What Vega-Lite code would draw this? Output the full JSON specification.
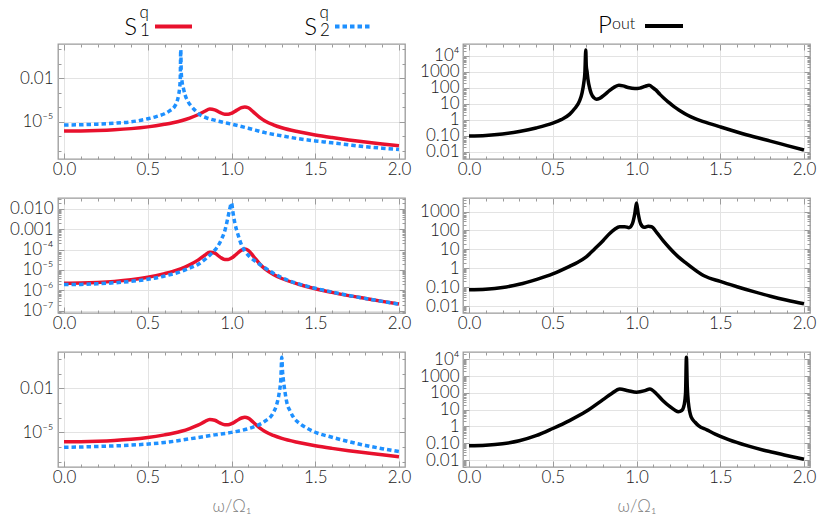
{
  "$schema": "https://vega.github.io/schema/vega-lite/v6.json",
  "background": "white",
  "padding": {"left": 8, "top": 3, "right": 5, "bottom": 5},
  "config": {
    "view": {"stroke": "#9b9b9b", "strokeWidth": 1.3},
    "font": "Lato",
    "axis": {"domain": false, "labelFont": "Lato", "labelFontSize": 17, "labelFontWeight": 300, "labelColor": "#1a1a1a", "tickColor": "#9b9b9b", "tickWidth": 1, "gridColor": "#e3e3e3", "gridWidth": 1, "labelOverlap": false, "labelFlush": false, "labelBound": false, "titleFont": "Lato", "titleFontSize": 17, "titleFontWeight": 300, "titleColor": "#808080"}
  },
  "datasets": {
    "s1": [{"x":0,"y":2.24e-6},{"x":0.1,"y":2.29e-6},{"x":0.2,"y":2.45e-6},{"x":0.3,"y":2.75e-6},{"x":0.4,"y":3.31e-6},{"x":0.5,"y":4.37e-6},{"x":0.6,"y":6.61e-6},{"x":0.65,"y":8.51e-6},{"x":0.7,"y":1.17e-5},{"x":0.75,"y":1.78e-5},{"x":0.8,"y":3.02e-5},{"x":0.84,"y":5.25e-5},{"x":0.87,"y":7.41e-5},{"x":0.9,"y":6.61e-5},{"x":0.93,"y":4.37e-5},{"x":0.96,"y":3.24e-5},{"x":0.98,"y":3.24e-5},{"x":1.0,"y":3.8e-5},{"x":1.03,"y":6.03e-5},{"x":1.06,"y":9.33e-5},{"x":1.08,"y":1.05e-4},{"x":1.1,"y":9.12e-5},{"x":1.13,"y":4.79e-5},{"x":1.17,"y":1.91e-5},{"x":1.2,"y":1.12e-5},{"x":1.25,"y":6.03e-6},{"x":1.3,"y":3.8e-6},{"x":1.4,"y":2.0e-6},{"x":1.5,"y":1.2e-6},{"x":1.6,"y":7.94e-7},{"x":1.7,"y":5.5e-7},{"x":1.8,"y":3.98e-7},{"x":1.9,"y":2.88e-7},{"x":2.0,"y":2.14e-7}],
    "s2a": [{"x":0,"y":5.89e-6},{"x":0.1,"y":6.17e-6},{"x":0.2,"y":6.76e-6},{"x":0.3,"y":7.76e-6},{"x":0.4,"y":9.77e-6},{"x":0.5,"y":1.58e-5},{"x":0.55,"y":2.24e-5},{"x":0.6,"y":3.55e-5},{"x":0.63,"y":5.62e-5},{"x":0.66,"y":1.12e-4},{"x":0.675,"y":2.51e-4},{"x":0.685,"y":7.94e-4},{"x":0.69,"y":2.0e-3},{"x":0.694,"y":1.0e-2},{"x":0.697,"y":0.955},{"x":0.7,"y":2.51e-2},{"x":0.705,"y":5.62e-3},{"x":0.712,"y":2.24e-3},{"x":0.723,"y":7.08e-4},{"x":0.74,"y":2.51e-4},{"x":0.762,"y":1.1e-4},{"x":0.79,"y":5.01e-5},{"x":0.812,"y":2.95e-5},{"x":0.85,"y":1.86e-5},{"x":0.892,"y":1.32e-5},{"x":0.95,"y":9.12e-6},{"x":1.0,"y":6.76e-6},{"x":1.1,"y":3.55e-6},{"x":1.2,"y":1.74e-6},{"x":1.3,"y":1.05e-6},{"x":1.4,"y":6.61e-7},{"x":1.5,"y":4.68e-7},{"x":1.6,"y":3.47e-7},{"x":1.7,"y":2.51e-7},{"x":1.8,"y":1.86e-7},{"x":1.9,"y":1.48e-7},{"x":2.0,"y":1.2e-7}],
    "s2b": [{"x":0,"y":1.91e-6},{"x":0.1,"y":1.95e-6},{"x":0.2,"y":2.09e-6},{"x":0.3,"y":2.34e-6},{"x":0.4,"y":2.75e-6},{"x":0.5,"y":3.47e-6},{"x":0.6,"y":5.01e-6},{"x":0.7,"y":8.51e-6},{"x":0.75,"y":1.23e-5},{"x":0.8,"y":1.86e-5},{"x":0.85,"y":3.72e-5},{"x":0.88,"y":6.31e-5},{"x":0.91,"y":1.17e-4},{"x":0.94,"y":3.16e-4},{"x":0.96,"y":8.32e-4},{"x":0.98,"y":4.17e-3},{"x":0.99,"y":1.0e-2},{"x":1.0,"y":1.9e-2},{"x":1.01,"y":5.62e-3},{"x":1.02,"y":2.0e-3},{"x":1.04,"y":5.01e-4},{"x":1.06,"y":1.66e-4},{"x":1.08,"y":8.32e-5},{"x":1.11,"y":4.37e-5},{"x":1.15,"y":2.4e-5},{"x":1.2,"y":1.26e-5},{"x":1.25,"y":6.92e-6},{"x":1.3,"y":4.17e-6},{"x":1.4,"y":2.09e-6},{"x":1.5,"y":1.26e-6},{"x":1.6,"y":8.32e-7},{"x":1.7,"y":5.62e-7},{"x":1.8,"y":3.98e-7},{"x":1.9,"y":2.88e-7},{"x":2.0,"y":2.09e-7}],
    "s2c": [{"x":0,"y":9.33e-7},{"x":0.2,"y":1.07e-6},{"x":0.4,"y":1.32e-6},{"x":0.6,"y":2.0e-6},{"x":0.8,"y":4.37e-6},{"x":0.9,"y":6.61e-6},{"x":1.0,"y":9.77e-6},{"x":1.1,"y":1.74e-5},{"x":1.15,"y":2.75e-5},{"x":1.2,"y":5.62e-5},{"x":1.25,"y":2.19e-4},{"x":1.27,"y":7.94e-4},{"x":1.285,"y":5.01e-3},{"x":1.295,"y":0.05},{"x":1.3,"y":1.29},{"x":1.305,"y":0.126},{"x":1.31,"y":0.0355},{"x":1.32,"y":5.01e-3},{"x":1.33,"y":1.12e-3},{"x":1.35,"y":2.82e-4},{"x":1.37,"y":1.05e-4},{"x":1.41,"y":3.72e-5},{"x":1.45,"y":1.91e-5},{"x":1.5,"y":1.0e-5},{"x":1.6,"y":4.57e-6},{"x":1.7,"y":2.29e-6},{"x":1.8,"y":1.26e-6},{"x":1.9,"y":7.59e-7},{"x":2.0,"y":4.79e-7}],
    "pa": [{"x":0,"y":0.1},{"x":0.1,"y":0.107},{"x":0.2,"y":0.132},{"x":0.3,"y":0.191},{"x":0.4,"y":0.316},{"x":0.5,"y":0.631},{"x":0.55,"y":1.05},{"x":0.6,"y":2.24},{"x":0.63,"y":5.01},{"x":0.66,"y":15.8},{"x":0.675,"y":50.1},{"x":0.685,"y":200},{"x":0.692,"y":1000},{"x":0.697,"y":23400},{"x":0.7,"y":2510},{"x":0.705,"y":1000},{"x":0.71,"y":355},{"x":0.72,"y":100},{"x":0.73,"y":44.7},{"x":0.745,"y":25.1},{"x":0.76,"y":20},{"x":0.78,"y":22.4},{"x":0.81,"y":38},{"x":0.84,"y":70.8},{"x":0.87,"y":117},{"x":0.895,"y":148},{"x":0.92,"y":135},{"x":0.95,"y":107},{"x":0.99,"y":91.2},{"x":1.02,"y":97.7},{"x":1.05,"y":126},{"x":1.075,"y":148},{"x":1.1,"y":100},{"x":1.115,"y":75.9},{"x":1.14,"y":39.8},{"x":1.164,"y":22.9},{"x":1.19,"y":13.2},{"x":1.224,"y":6.76},{"x":1.26,"y":3.8},{"x":1.303,"y":2.04},{"x":1.35,"y":1.2},{"x":1.4,"y":0.794},{"x":1.5,"y":0.372},{"x":1.6,"y":0.178},{"x":1.7,"y":0.0891},{"x":1.8,"y":0.0479},{"x":1.9,"y":0.0251},{"x":2.0,"y":0.0132}],
    "pb": [{"x":0,"y":0.0724},{"x":0.1,"y":0.0776},{"x":0.2,"y":0.0955},{"x":0.3,"y":0.141},{"x":0.4,"y":0.251},{"x":0.5,"y":0.501},{"x":0.6,"y":1.26},{"x":0.65,"y":2.09},{"x":0.7,"y":3.98},{"x":0.75,"y":10.5},{"x":0.8,"y":28.8},{"x":0.84,"y":69.2},{"x":0.87,"y":117},{"x":0.9,"y":158},{"x":0.93,"y":158},{"x":0.955,"y":141},{"x":0.975,"y":224},{"x":0.99,"y":794},{"x":1.0,"y":2820},{"x":1.01,"y":794},{"x":1.025,"y":224},{"x":1.045,"y":148},{"x":1.07,"y":166},{"x":1.09,"y":158},{"x":1.12,"y":79.4},{"x":1.16,"y":28.2},{"x":1.2,"y":11.2},{"x":1.25,"y":3.98},{"x":1.3,"y":1.78},{"x":1.4,"y":0.417},{"x":1.5,"y":0.2},{"x":1.6,"y":0.105},{"x":1.7,"y":0.0575},{"x":1.8,"y":0.0331},{"x":1.9,"y":0.0204},{"x":2.0,"y":0.0132}],
    "pc": [{"x":0,"y":0.0708},{"x":0.1,"y":0.0759},{"x":0.2,"y":0.0933},{"x":0.3,"y":0.141},{"x":0.4,"y":0.282},{"x":0.5,"y":0.759},{"x":0.6,"y":2.24},{"x":0.7,"y":7.94},{"x":0.8,"y":39.8},{"x":0.85,"y":89.1},{"x":0.9,"y":170},{"x":0.95,"y":135},{"x":1.0,"y":110},{"x":1.05,"y":135},{"x":1.08,"y":170},{"x":1.12,"y":85.1},{"x":1.16,"y":33.1},{"x":1.2,"y":15.1},{"x":1.23,"y":9.33},{"x":1.25,"y":7.59},{"x":1.27,"y":8.91},{"x":1.285,"y":20},{"x":1.293,"y":100},{"x":1.298,"y":13200},{"x":1.303,"y":251},{"x":1.31,"y":25.1},{"x":1.327,"y":3.55},{"x":1.35,"y":1.78},{"x":1.37,"y":1.12},{"x":1.42,"y":0.631},{"x":1.47,"y":0.355},{"x":1.55,"y":0.166},{"x":1.66,"y":0.0724},{"x":1.76,"y":0.0389},{"x":1.86,"y":0.0229},{"x":1.93,"y":0.0158},{"x":2.0,"y":0.0112}]
  },
  "bounds": "flush",
  "columns": 2,
  "spacing": {"row": 39, "column": 58},
  "concat": [
    {
      "width": 347, "height": 2, "view": {"stroke": null},
      "data": {"values": [{"k": "S1", "main": "S", "sub": "1", "sup": "q"}, {"k": "S2", "main": "S", "sub": "2", "sup": "q"}]},
      "encoding": {"x": {"field": "k", "type": "nominal", "scale": {"type": "point", "padding": 0.464, "align": 0.557}, "axis": null}},
      "layer": [
        {"mark": {"type": "text", "align": "right", "baseline": "alphabetic", "dx": -14, "dy": 30.5, "fontSize": 24, "fontWeight": 300, "font": "Lato", "color": "#000"}, "encoding": {"text": {"field": "main"}}},
        {"mark": {"type": "text", "align": "left", "baseline": "alphabetic", "dx": -11, "dy": 31.5, "fontSize": 17, "fontWeight": 300, "font": "Lato", "color": "#000"}, "encoding": {"text": {"field": "sub"}}},
        {"mark": {"type": "text", "align": "left", "baseline": "alphabetic", "dx": -11.5, "dy": 13.5, "fontSize": 17, "fontWeight": 300, "font": "Lato", "color": "#000"}, "encoding": {"text": {"field": "sup"}}},
        {"mark": {"type": "rule", "strokeWidth": 4, "xOffset": 4, "x2Offset": 41, "yOffset": 22.5},
         "encoding": {"x2": {"field": "k"},
           "color": {"field": "k", "type": "nominal", "scale": {"domain": ["S1", "S2"], "range": ["#e8112d", "#1e90ff"]}, "legend": null},
           "strokeDash": {"field": "k", "type": "nominal", "scale": {"domain": ["S1", "S2"], "range": [[1, 0], [4.5, 3]]}, "legend": null}}}
      ]
    },
    {
      "width": 347, "height": 2, "view": {"stroke": null},
      "data": {"values": [{"k": "P", "main": "P", "sup": "out"}]},
      "encoding": {"x": {"field": "k", "type": "nominal", "scale": {"type": "point", "padding": 0.5, "align": 0.513}, "axis": null}},
      "layer": [
        {"mark": {"type": "text", "align": "left", "baseline": "alphabetic", "dx": -43, "dy": 29.3, "fontSize": 24, "fontWeight": 300, "font": "Lato", "color": "#000"}, "encoding": {"text": {"field": "main"}}},
        {"mark": {"type": "text", "align": "left", "baseline": "alphabetic", "dx": -29, "dy": 25, "fontSize": 16, "fontWeight": 300, "font": "Lato", "color": "#000"}, "encoding": {"text": {"field": "sup"}}},
        {"mark": {"type": "rule", "strokeWidth": 4, "xOffset": 4, "x2Offset": 42, "yOffset": 22, "color": "#000"}, "encoding": {"x2": {"field": "k"}}}
      ]
    },
    {
      "width": 347, "height": 115,
      "layer": [
        {"data": {"name": "s1"}, "mark": {"type": "line", "color": "#e8112d", "strokeWidth": 3.5, "interpolate": "monotone", "clip": true},
         "encoding": {
           "x": {"field": "x", "type": "quantitative", "scale": {"domain": [-0.036, 2.036], "nice": false, "zero": false},
             "axis": {"orient": "bottom", "values": [0,0.1,0.2,0.3,0.4,0.5,0.6,0.7,0.8,0.9,1,1.1,1.2,1.3,1.4,1.5,1.6,1.7,1.8,1.9,2], "labelExpr": "abs(datum.value*2-round(datum.value*2))<0.001 ? format(datum.value,'.1f') : ''", "grid": true, "gridOpacity": {"condition": {"test": "abs(datum.value*2-round(datum.value*2))<0.001", "value": 1}, "value": 0}, "tickSize": {"condition": {"test": "abs(datum.value*2-round(datum.value*2))<0.001", "value": -6}, "value": -3}, "labelPadding": 8, "title": null}},
           "y": {"field": "y", "type": "quantitative", "scale": {"type": "log", "domain": [2.63e-8, 2.34], "nice": false},
             "axis": {"orient": "left", "values": [1e-7,1e-6,1e-5,1e-4,0.001,0.01,0.1,1], "labelExpr": "datum.value == 0.01 ? '0.01' : datum.value == 0.00001 ? '10⁻⁵' : ''", "grid": true, "gridOpacity": {"condition": {"test": "datum.value == 0.01 || datum.value == 0.00001", "value": 1}, "value": 0}, "tickSize": {"condition": {"test": "datum.value == 0.01 || datum.value == 0.00001", "value": -6}, "value": -3}, "labelPadding": 11, "title": null}}
         }},
        {"data": {"name": "s2a"}, "mark": {"type": "line", "color": "#1e90ff", "strokeWidth": 3.5, "strokeDash": [4.5, 3], "interpolate": "monotone", "clip": true},
         "encoding": {
           "x": {"field": "x", "type": "quantitative", "scale": {"domain": [-0.036, 2.036], "nice": false, "zero": false},
             "axis": {"orient": "top", "values": [0,0.1,0.2,0.3,0.4,0.5,0.6,0.7,0.8,0.9,1,1.1,1.2,1.3,1.4,1.5,1.6,1.7,1.8,1.9,2], "labels": false, "grid": false, "tickSize": {"condition": {"test": "abs(datum.value*2-round(datum.value*2))<0.001", "value": -6}, "value": -3}, "title": null}},
           "y": {"field": "y", "type": "quantitative", "scale": {"type": "log", "domain": [2.63e-8, 2.34], "nice": false},
             "axis": {"orient": "right", "values": [1e-7,1e-6,1e-5,1e-4,0.001,0.01,0.1,1], "labels": false, "grid": false, "tickSize": {"condition": {"test": "datum.value == 0.01 || datum.value == 0.00001", "value": -6}, "value": -3}, "title": null}}
         }}
      ],
      "resolve": {"axis": {"x": "independent", "y": "independent"}}
    },
    {
      "width": 347, "height": 115,
      "layer": [
        {"data": {"name": "pa"}, "mark": {"type": "line", "color": "#000", "strokeWidth": 3.5, "interpolate": "monotone", "clip": true},
         "encoding": {
           "x": {"field": "x", "type": "quantitative", "scale": {"domain": [-0.036, 2.036], "nice": false, "zero": false},
             "axis": {"orient": "bottom", "values": [0,0.1,0.2,0.3,0.4,0.5,0.6,0.7,0.8,0.9,1,1.1,1.2,1.3,1.4,1.5,1.6,1.7,1.8,1.9,2], "labelExpr": "abs(datum.value*2-round(datum.value*2))<0.001 ? format(datum.value,'.1f') : ''", "grid": true, "gridOpacity": {"condition": {"test": "abs(datum.value*2-round(datum.value*2))<0.001", "value": 1}, "value": 0}, "tickSize": {"condition": {"test": "abs(datum.value*2-round(datum.value*2))<0.001", "value": -6}, "value": -3}, "labelPadding": 8, "title": null}},
           "y": {"field": "y", "type": "quantitative", "scale": {"type": "log", "domain": [3.63e-3, 56234], "nice": false},
             "axis": {"orient": "left", "values": [0.004,0.005,0.006,0.007,0.008,0.009,0.01,0.02,0.03,0.04,0.05,0.06,0.07,0.08,0.09,0.1,0.2,0.3,0.4,0.5,0.6,0.7,0.8,0.9,1,2,3,4,5,6,7,8,9,10,20,30,40,50,60,70,80,90,100,200,300,400,500,600,700,800,900,1000,2000,3000,4000,5000,6000,7000,8000,9000,10000,20000,30000,40000,50000], "labelExpr": "datum.value == 10000 ? '10⁴' : datum.value == 1000 ? '1000' : datum.value == 100 ? '100' : datum.value == 10 ? '10' : datum.value == 1 ? '1' : datum.value == 0.1 ? '0.10' : datum.value == 0.01 ? '0.01' : ''", "grid": true, "gridOpacity": {"condition": {"test": "abs(log(datum.value)/LN10 - round(log(datum.value)/LN10)) < 0.000001", "value": 1}, "value": 0}, "tickSize": {"condition": {"test": "abs(log(datum.value)/LN10 - round(log(datum.value)/LN10)) < 0.000001", "value": -6}, "value": -3}, "labelPadding": 10, "title": null}}
         }},
        {"data": {"name": "pa"}, "mark": {"type": "line", "strokeOpacity": 0, "clip": true},
         "encoding": {
           "x": {"field": "x", "type": "quantitative", "scale": {"domain": [-0.036, 2.036], "nice": false, "zero": false},
             "axis": {"orient": "top", "values": [0,0.1,0.2,0.3,0.4,0.5,0.6,0.7,0.8,0.9,1,1.1,1.2,1.3,1.4,1.5,1.6,1.7,1.8,1.9,2], "labels": false, "grid": false, "tickSize": {"condition": {"test": "abs(datum.value*2-round(datum.value*2))<0.001", "value": -6}, "value": -3}, "title": null}},
           "y": {"field": "y", "type": "quantitative", "scale": {"type": "log", "domain": [3.63e-3, 56234], "nice": false},
             "axis": {"orient": "right", "values": [0.004,0.005,0.006,0.007,0.008,0.009,0.01,0.02,0.03,0.04,0.05,0.06,0.07,0.08,0.09,0.1,0.2,0.3,0.4,0.5,0.6,0.7,0.8,0.9,1,2,3,4,5,6,7,8,9,10,20,30,40,50,60,70,80,90,100,200,300,400,500,600,700,800,900,1000,2000,3000,4000,5000,6000,7000,8000,9000,10000,20000,30000,40000,50000], "labels": false, "grid": false, "tickSize": {"condition": {"test": "abs(log(datum.value)/LN10 - round(log(datum.value)/LN10)) < 0.000001", "value": -6}, "value": -3}, "title": null}}
         }}
      ],
      "resolve": {"axis": {"x": "independent", "y": "independent"}}
    },
    {
      "width": 347, "height": 115,
      "layer": [
        {"data": {"name": "s1"}, "mark": {"type": "line", "color": "#e8112d", "strokeWidth": 3.5, "interpolate": "monotone", "clip": true},
         "encoding": {
           "x": {"field": "x", "type": "quantitative", "scale": {"domain": [-0.036, 2.036], "nice": false, "zero": false},
             "axis": {"orient": "bottom", "values": [0,0.1,0.2,0.3,0.4,0.5,0.6,0.7,0.8,0.9,1,1.1,1.2,1.3,1.4,1.5,1.6,1.7,1.8,1.9,2], "labelExpr": "abs(datum.value*2-round(datum.value*2))<0.001 ? format(datum.value,'.1f') : ''", "grid": true, "gridOpacity": {"condition": {"test": "abs(datum.value*2-round(datum.value*2))<0.001", "value": 1}, "value": 0}, "tickSize": {"condition": {"test": "abs(datum.value*2-round(datum.value*2))<0.001", "value": -6}, "value": -3}, "labelPadding": 8, "title": null}},
           "y": {"field": "y", "type": "quantitative", "scale": {"type": "log", "domain": [7.76e-8, 0.0335], "nice": false},
             "axis": {"orient": "left", "values": [8e-8,9e-8,1e-7,2e-7,3e-7,4e-7,5e-7,6e-7,7e-7,8e-7,9e-7,1e-6,2e-6,3e-6,4e-6,5e-6,6e-6,7e-6,8e-6,9e-6,1e-5,2e-5,3e-5,4e-5,5e-5,6e-5,7e-5,8e-5,9e-5,1e-4,2e-4,3e-4,4e-4,5e-4,6e-4,7e-4,8e-4,9e-4,0.001,0.002,0.003,0.004,0.005,0.006,0.007,0.008,0.009,0.01,0.02,0.03], "labelExpr": "datum.value == 0.01 ? '0.010' : datum.value == 0.001 ? '0.001' : datum.value == 0.0001 ? '10⁻⁴' : datum.value == 0.00001 ? '10⁻⁵' : datum.value == 0.000001 ? '10⁻⁶' : datum.value == 0.0000001 ? '10⁻⁷' : ''", "grid": true, "gridOpacity": {"condition": {"test": "abs(log(datum.value)/LN10 - round(log(datum.value)/LN10)) < 0.000001", "value": 1}, "value": 0}, "tickSize": {"condition": {"test": "abs(log(datum.value)/LN10 - round(log(datum.value)/LN10)) < 0.000001", "value": -6}, "value": -3}, "labelPadding": 11, "title": null}}
         }},
        {"data": {"name": "s2b"}, "mark": {"type": "line", "color": "#1e90ff", "strokeWidth": 3.5, "strokeDash": [4.5, 3], "interpolate": "monotone", "clip": true},
         "encoding": {
           "x": {"field": "x", "type": "quantitative", "scale": {"domain": [-0.036, 2.036], "nice": false, "zero": false},
             "axis": {"orient": "top", "values": [0,0.1,0.2,0.3,0.4,0.5,0.6,0.7,0.8,0.9,1,1.1,1.2,1.3,1.4,1.5,1.6,1.7,1.8,1.9,2], "labels": false, "grid": false, "tickSize": {"condition": {"test": "abs(datum.value*2-round(datum.value*2))<0.001", "value": -6}, "value": -3}, "title": null}},
           "y": {"field": "y", "type": "quantitative", "scale": {"type": "log", "domain": [7.76e-8, 0.0335], "nice": false},
             "axis": {"orient": "right", "values": [8e-8,9e-8,1e-7,2e-7,3e-7,4e-7,5e-7,6e-7,7e-7,8e-7,9e-7,1e-6,2e-6,3e-6,4e-6,5e-6,6e-6,7e-6,8e-6,9e-6,1e-5,2e-5,3e-5,4e-5,5e-5,6e-5,7e-5,8e-5,9e-5,1e-4,2e-4,3e-4,4e-4,5e-4,6e-4,7e-4,8e-4,9e-4,0.001,0.002,0.003,0.004,0.005,0.006,0.007,0.008,0.009,0.01,0.02,0.03], "labels": false, "grid": false, "tickSize": {"condition": {"test": "abs(log(datum.value)/LN10 - round(log(datum.value)/LN10)) < 0.000001", "value": -6}, "value": -3}, "title": null}}
         }}
      ],
      "resolve": {"axis": {"x": "independent", "y": "independent"}}
    },
    {
      "width": 347, "height": 115,
      "layer": [
        {"data": {"name": "pb"}, "mark": {"type": "line", "color": "#000", "strokeWidth": 3.5, "interpolate": "monotone", "clip": true},
         "encoding": {
           "x": {"field": "x", "type": "quantitative", "scale": {"domain": [-0.036, 2.036], "nice": false, "zero": false},
             "axis": {"orient": "bottom", "values": [0,0.1,0.2,0.3,0.4,0.5,0.6,0.7,0.8,0.9,1,1.1,1.2,1.3,1.4,1.5,1.6,1.7,1.8,1.9,2], "labelExpr": "abs(datum.value*2-round(datum.value*2))<0.001 ? format(datum.value,'.1f') : ''", "grid": true, "gridOpacity": {"condition": {"test": "abs(datum.value*2-round(datum.value*2))<0.001", "value": 1}, "value": 0}, "tickSize": {"condition": {"test": "abs(datum.value*2-round(datum.value*2))<0.001", "value": -6}, "value": -3}, "labelPadding": 8, "title": null}},
           "y": {"field": "y", "type": "quantitative", "scale": {"type": "log", "domain": [4.27e-3, 5248], "nice": false},
             "axis": {"orient": "left", "values": [0.005,0.006,0.007,0.008,0.009,0.01,0.02,0.03,0.04,0.05,0.06,0.07,0.08,0.09,0.1,0.2,0.3,0.4,0.5,0.6,0.7,0.8,0.9,1,2,3,4,5,6,7,8,9,10,20,30,40,50,60,70,80,90,100,200,300,400,500,600,700,800,900,1000,2000,3000,4000,5000], "labelExpr": "datum.value == 10000 ? '10⁴' : datum.value == 1000 ? '1000' : datum.value == 100 ? '100' : datum.value == 10 ? '10' : datum.value == 1 ? '1' : datum.value == 0.1 ? '0.10' : datum.value == 0.01 ? '0.01' : ''", "grid": true, "gridOpacity": {"condition": {"test": "abs(log(datum.value)/LN10 - round(log(datum.value)/LN10)) < 0.000001", "value": 1}, "value": 0}, "tickSize": {"condition": {"test": "abs(log(datum.value)/LN10 - round(log(datum.value)/LN10)) < 0.000001", "value": -6}, "value": -3}, "labelPadding": 10, "title": null}}
         }},
        {"data": {"name": "pb"}, "mark": {"type": "line", "strokeOpacity": 0, "clip": true},
         "encoding": {
           "x": {"field": "x", "type": "quantitative", "scale": {"domain": [-0.036, 2.036], "nice": false, "zero": false},
             "axis": {"orient": "top", "values": [0,0.1,0.2,0.3,0.4,0.5,0.6,0.7,0.8,0.9,1,1.1,1.2,1.3,1.4,1.5,1.6,1.7,1.8,1.9,2], "labels": false, "grid": false, "tickSize": {"condition": {"test": "abs(datum.value*2-round(datum.value*2))<0.001", "value": -6}, "value": -3}, "title": null}},
           "y": {"field": "y", "type": "quantitative", "scale": {"type": "log", "domain": [4.27e-3, 5248], "nice": false},
             "axis": {"orient": "right", "values": [0.005,0.006,0.007,0.008,0.009,0.01,0.02,0.03,0.04,0.05,0.06,0.07,0.08,0.09,0.1,0.2,0.3,0.4,0.5,0.6,0.7,0.8,0.9,1,2,3,4,5,6,7,8,9,10,20,30,40,50,60,70,80,90,100,200,300,400,500,600,700,800,900,1000,2000,3000,4000,5000], "labels": false, "grid": false, "tickSize": {"condition": {"test": "abs(log(datum.value)/LN10 - round(log(datum.value)/LN10)) < 0.000001", "value": -6}, "value": -3}, "title": null}}
         }}
      ],
      "resolve": {"axis": {"x": "independent", "y": "independent"}}
    },
    {
      "width": 347, "height": 115,
      "layer": [
        {"data": {"name": "s1"}, "mark": {"type": "line", "color": "#e8112d", "strokeWidth": 3.5, "interpolate": "monotone", "clip": true},
         "encoding": {
           "x": {"field": "x", "type": "quantitative", "scale": {"domain": [-0.036, 2.036], "nice": false, "zero": false},
             "axis": {"orient": "bottom", "values": [0,0.1,0.2,0.3,0.4,0.5,0.6,0.7,0.8,0.9,1,1.1,1.2,1.3,1.4,1.5,1.6,1.7,1.8,1.9,2], "labelExpr": "abs(datum.value*2-round(datum.value*2))<0.001 ? format(datum.value,'.1f') : ''", "grid": true, "gridOpacity": {"condition": {"test": "abs(datum.value*2-round(datum.value*2))<0.001", "value": 1}, "value": 0}, "tickSize": {"condition": {"test": "abs(datum.value*2-round(datum.value*2))<0.001", "value": -6}, "value": -3}, "labelPadding": 8, "title": "ω/Ω₁", "titlePadding": 10}},
           "y": {"field": "y", "type": "quantitative", "scale": {"type": "log", "domain": [4.27e-8, 2.95], "nice": false},
             "axis": {"orient": "left", "values": [1e-7,1e-6,1e-5,1e-4,0.001,0.01,0.1,1], "labelExpr": "datum.value == 0.01 ? '0.01' : datum.value == 0.00001 ? '10⁻⁵' : ''", "grid": true, "gridOpacity": {"condition": {"test": "datum.value == 0.01 || datum.value == 0.00001", "value": 1}, "value": 0}, "tickSize": {"condition": {"test": "datum.value == 0.01 || datum.value == 0.00001", "value": -6}, "value": -3}, "labelPadding": 11, "title": null}}
         }},
        {"data": {"name": "s2c"}, "mark": {"type": "line", "color": "#1e90ff", "strokeWidth": 3.5, "strokeDash": [4.5, 3], "interpolate": "monotone", "clip": true},
         "encoding": {
           "x": {"field": "x", "type": "quantitative", "scale": {"domain": [-0.036, 2.036], "nice": false, "zero": false},
             "axis": {"orient": "top", "values": [0,0.1,0.2,0.3,0.4,0.5,0.6,0.7,0.8,0.9,1,1.1,1.2,1.3,1.4,1.5,1.6,1.7,1.8,1.9,2], "labels": false, "grid": false, "tickSize": {"condition": {"test": "abs(datum.value*2-round(datum.value*2))<0.001", "value": -6}, "value": -3}, "title": null}},
           "y": {"field": "y", "type": "quantitative", "scale": {"type": "log", "domain": [4.27e-8, 2.95], "nice": false},
             "axis": {"orient": "right", "values": [1e-7,1e-6,1e-5,1e-4,0.001,0.01,0.1,1], "labels": false, "grid": false, "tickSize": {"condition": {"test": "datum.value == 0.01 || datum.value == 0.00001", "value": -6}, "value": -3}, "title": null}}
         }}
      ],
      "resolve": {"axis": {"x": "independent", "y": "independent"}}
    },
    {
      "width": 347, "height": 115,
      "layer": [
        {"data": {"name": "pc"}, "mark": {"type": "line", "color": "#000", "strokeWidth": 3.5, "interpolate": "monotone", "clip": true},
         "encoding": {
           "x": {"field": "x", "type": "quantitative", "scale": {"domain": [-0.036, 2.036], "nice": false, "zero": false},
             "axis": {"orient": "bottom", "values": [0,0.1,0.2,0.3,0.4,0.5,0.6,0.7,0.8,0.9,1,1.1,1.2,1.3,1.4,1.5,1.6,1.7,1.8,1.9,2], "labelExpr": "abs(datum.value*2-round(datum.value*2))<0.001 ? format(datum.value,'.1f') : ''", "grid": true, "gridOpacity": {"condition": {"test": "abs(datum.value*2-round(datum.value*2))<0.001", "value": 1}, "value": 0}, "tickSize": {"condition": {"test": "abs(datum.value*2-round(datum.value*2))<0.001", "value": -6}, "value": -3}, "labelPadding": 8, "title": "ω/Ω₁", "titlePadding": 10}},
           "y": {"field": "y", "type": "quantitative", "scale": {"type": "log", "domain": [3.89e-3, 26915], "nice": false},
             "axis": {"orient": "left", "values": [0.004,0.005,0.006,0.007,0.008,0.009,0.01,0.02,0.03,0.04,0.05,0.06,0.07,0.08,0.09,0.1,0.2,0.3,0.4,0.5,0.6,0.7,0.8,0.9,1,2,3,4,5,6,7,8,9,10,20,30,40,50,60,70,80,90,100,200,300,400,500,600,700,800,900,1000,2000,3000,4000,5000,6000,7000,8000,9000,10000,20000], "labelExpr": "datum.value == 10000 ? '10⁴' : datum.value == 1000 ? '1000' : datum.value == 100 ? '100' : datum.value == 10 ? '10' : datum.value == 1 ? '1' : datum.value == 0.1 ? '0.10' : datum.value == 0.01 ? '0.01' : ''", "grid": true, "gridOpacity": {"condition": {"test": "abs(log(datum.value)/LN10 - round(log(datum.value)/LN10)) < 0.000001", "value": 1}, "value": 0}, "tickSize": {"condition": {"test": "abs(log(datum.value)/LN10 - round(log(datum.value)/LN10)) < 0.000001", "value": -6}, "value": -3}, "labelPadding": 10, "title": null}}
         }},
        {"data": {"name": "pc"}, "mark": {"type": "line", "strokeOpacity": 0, "clip": true},
         "encoding": {
           "x": {"field": "x", "type": "quantitative", "scale": {"domain": [-0.036, 2.036], "nice": false, "zero": false},
             "axis": {"orient": "top", "values": [0,0.1,0.2,0.3,0.4,0.5,0.6,0.7,0.8,0.9,1,1.1,1.2,1.3,1.4,1.5,1.6,1.7,1.8,1.9,2], "labels": false, "grid": false, "tickSize": {"condition": {"test": "abs(datum.value*2-round(datum.value*2))<0.001", "value": -6}, "value": -3}, "title": null}},
           "y": {"field": "y", "type": "quantitative", "scale": {"type": "log", "domain": [3.89e-3, 26915], "nice": false},
             "axis": {"orient": "right", "values": [0.004,0.005,0.006,0.007,0.008,0.009,0.01,0.02,0.03,0.04,0.05,0.06,0.07,0.08,0.09,0.1,0.2,0.3,0.4,0.5,0.6,0.7,0.8,0.9,1,2,3,4,5,6,7,8,9,10,20,30,40,50,60,70,80,90,100,200,300,400,500,600,700,800,900,1000,2000,3000,4000,5000,6000,7000,8000,9000,10000,20000], "labels": false, "grid": false, "tickSize": {"condition": {"test": "abs(log(datum.value)/LN10 - round(log(datum.value)/LN10)) < 0.000001", "value": -6}, "value": -3}, "title": null}}
         }}
      ],
      "resolve": {"axis": {"x": "independent", "y": "independent"}}
    }
  ]
}
